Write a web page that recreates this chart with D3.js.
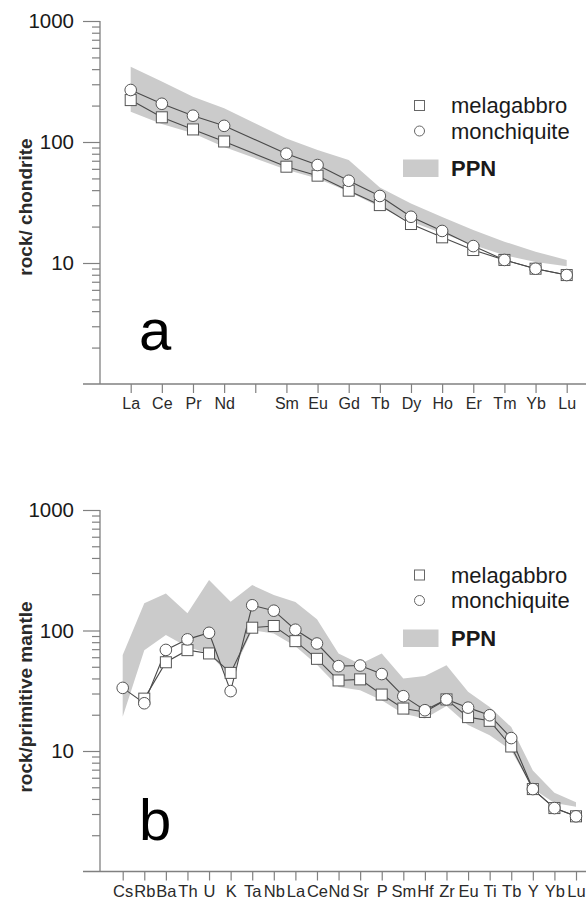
<!DOCTYPE html>
<html>
<head>
<meta charset="utf-8">
<script src="https://cdn.jsdelivr.net/npm/d3@7"></script>
<style>
  body { margin: 0; background: #fff; }
  svg { display: block; font-family: "Liberation Sans", Arial, sans-serif; }
</style>
</head>
<body>
<div id="chart-area"></div>
<script>
// ---- panel a : chondrite normalised REE ----
var reeElements = ["La","Ce","Pr","Nd","Pm","Sm","Eu","Gd","Tb","Dy","Ho","Er","Tm","Yb","Lu"];
var reeTickLabels = ["La","Ce","Pr","Nd","","Sm","Eu","Gd","Tb","Dy","Ho","Er","Tm","Yb","Lu"];
var reeMelagabbro = [222,160,127,101,null,62.5,52.7,39.6,30.1,21,16.3,12.8,10.6,8.97,7.95];
var reeMonchiquite = [269,207,165,136,null,80,64.5,47.8,35.8,24.1,18.4,13.8,10.6,8.97,7.95];
var reePpnUpper = [418,316,237,190,null,107,86,71,42,31,24,18.7,15,12.4,10.6];
var reePpnLower = [178,141,118,91,null,59,50,38.8,29,21.9,17.6,14.1,11.6,10.2,9.4];

// ---- panel b : primitive mantle normalised trace elements ----
var traceElements = ["Cs","Rb","Ba","Th","U","K","Ta","Nb","La","Ce","Nd","Sr","P","Sm","Hf","Zr","Eu","Ti","Tb","Y","Yb","Lu"];
var traceMelagabbro = [null,27.2,54.5,68.7,64.5,44.5,105.5,109,81.6,58.2,38.5,39.3,29.4,22.5,21.1,26.8,19.1,17.8,10.9,4.83,3.36,2.87];
var traceMonchiquite = [33.4,24.9,69,84.4,95.7,31.4,162,146,101.5,78,50.6,51.2,43.5,28.5,21.8,26.8,22.9,19.8,12.8,4.83,3.36,2.87];
var tracePpnUpper = [62.5,168,203,139,262,173,238,197,172,124,64.5,52.6,64.5,40,42,51.6,31,23.2,15.8,6.9,4.5,3.75];
var tracePpnLower = [19.2,68.7,91.6,73,64.5,41,100.7,94.6,74,52,34,32,26.4,20.4,18.6,23.6,16.4,13.5,10.1,4.87,3.7,3.45];

var yTickLabels = [10, 100, 1000];

var svg = d3.select("#chart-area")
    .append("svg")
    .attr("width", 586)
    .attr("height", 899);

function drawPanel(p) {
    var g = svg.append("g");

    var x = d3.scalePoint()
        .domain(p.elements)
        .range(p.xRange);

    var y = d3.scaleLog()
        .domain([1, 1000])
        .range(p.yRange);

    var rows = p.elements.map(function (el, i) {
        return { el: el, mel: p.mel[i], mon: p.mon[i], up: p.up[i], lo: p.lo[i] };
    });

    // PPN field
    var area = d3.area()
        .x(function (d) { return x(d.el); })
        .y0(function (d) { return y(d.lo); })
        .y1(function (d) { return y(d.up); });
    g.append("path")
        .datum(rows.filter(function (d) { return d.up != null; }))
        .attr("d", area)
        .attr("fill", "#cbcbcb");

    // y axis with minor ticks
    var yTicks = [];
    [1, 10, 100].forEach(function (dec) {
        for (var k = 1; k <= 10; k++) {
            if (dec * k > 1) yTicks.push(dec * k);
        }
    });
    yTicks = Array.from(new Set(yTicks));
    var yAxis = g.append("g")
        .attr("transform", "translate(100,0)")
        .call(d3.axisLeft(y).tickValues(yTicks).tickSize(8).tickFormat(""));
    yAxis.select(".domain").remove();
    yAxis.selectAll(".tick line")
        .attr("x2", function (d) { return yTickLabels.indexOf(d) >= 0 ? -17 : -8; })
        .attr("stroke", "#808080")
        .attr("stroke-width", 1.2);
    g.selectAll(".ylab")
        .data(yTickLabels)
        .enter()
        .append("text")
        .attr("x", 74)
        .attr("y", function (d) { return y(d); })
        .attr("dy", "0.36em")
        .attr("text-anchor", "end")
        .attr("font-size", 20.5)
        .attr("fill", "#1a1a1a")
        .text(function (d) { return d; });

    // axis lines
    g.append("line")
        .attr("x1", 100).attr("x2", 100)
        .attr("y1", y(1000)).attr("y2", y(1))
        .attr("stroke", "#808080").attr("stroke-width", 1.3);
    g.append("line")
        .attr("x1", 83).attr("x2", 586)
        .attr("y1", y(1)).attr("y2", y(1))
        .attr("stroke", "#808080").attr("stroke-width", 1.3);

    // x axis ticks and labels
    var xAxis = g.append("g")
        .attr("transform", "translate(0," + y(1) + ")")
        .call(d3.axisBottom(x).tickSize(9).tickSizeOuter(0)
            .tickFormat(function (d, i) { return p.tickLabels[i]; }));
    xAxis.select(".domain").remove();
    xAxis.selectAll(".tick line").attr("stroke", "#808080").attr("stroke-width", 1.2);
    xAxis.selectAll(".tick text")
        .attr("y", 14)
        .attr("font-size", p.xFont)
        .attr("font-family", "Liberation Sans, Arial, sans-serif")
        .attr("fill", "#2a2a2a");

    // axis title
    g.append("text")
        .attr("transform", "translate(" + p.titleX + "," + p.titleY + ") rotate(-90)")
        .attr("text-anchor", "middle")
        .attr("font-size", 19)
        .attr("font-weight", "bold")
        .attr("fill", "#2a2a2a")
        .text(p.title);

    // series lines
    var line = d3.line()
        .x(function (d) { return x(d.el); })
        .y(function (d) { return y(d.v); });
    ["mel", "mon"].forEach(function (key) {
        g.append("path")
            .datum(rows.filter(function (d) { return d[key] != null; })
                .map(function (d) { return { el: d.el, v: d[key] }; }))
            .attr("d", line)
            .attr("fill", "none")
            .attr("stroke", "#4a4a4a")
            .attr("stroke-width", 1.1);
    });

    // markers
    var s = 11;
    g.selectAll(".sq")
        .data(rows.filter(function (d) { return d.mel != null; }))
        .enter()
        .append("rect")
        .attr("x", function (d) { return x(d.el) - s / 2; })
        .attr("y", function (d) { return y(d.mel) - s / 2; })
        .attr("width", s)
        .attr("height", s)
        .attr("fill", "#fff")
        .attr("stroke", "#555")
        .attr("stroke-width", 1);
    g.selectAll(".ci")
        .data(rows.filter(function (d) { return d.mon != null; }))
        .enter()
        .append("circle")
        .attr("cx", function (d) { return x(d.el); })
        .attr("cy", function (d) { return y(d.mon); })
        .attr("r", 5.8)
        .attr("fill", "#fff")
        .attr("stroke", "#555")
        .attr("stroke-width", 1);

    // legend
    var L = p.legend;
    g.append("rect")
        .attr("x", 414.5).attr("y", L.y1 - 5)
        .attr("width", 10).attr("height", 10)
        .attr("fill", "#fff").attr("stroke", "#666").attr("stroke-width", 1);
    g.append("circle")
        .attr("cx", 419.5).attr("cy", L.y2)
        .attr("r", 5)
        .attr("fill", "#fff").attr("stroke", "#666").attr("stroke-width", 1);
    g.append("rect")
        .attr("x", 403).attr("y", L.y3 - 8.5)
        .attr("width", 35.5).attr("height", 17.5)
        .attr("fill", "#cbcbcb");
    g.append("text").attr("x", 451).attr("y", L.y1).attr("dy", "0.36em")
        .attr("font-size", 22).attr("fill", "#1a1a1a").text("melagabbro");
    g.append("text").attr("x", 451).attr("y", L.y2).attr("dy", "0.36em")
        .attr("font-size", 22).attr("fill", "#1a1a1a").text("monchiquite");
    g.append("text").attr("x", 451).attr("y", L.y3).attr("dy", "0.36em")
        .attr("font-size", 22).attr("font-weight", "bold").attr("fill", "#1a1a1a").text("PPN");

    // panel letter
    g.append("text")
        .attr("x", 139)
        .attr("y", p.letterY)
        .attr("font-size", 58)
        .attr("fill", "#000")
        .text(p.letter);
}

drawPanel({
    elements: reeElements,
    tickLabels: reeTickLabels,
    mel: reeMelagabbro,
    mon: reeMonchiquite,
    up: reePpnUpper,
    lo: reePpnLower,
    xRange: [130.7, 566.7],
    yRange: [384, 21],
    xFont: 16,
    title: "rock/ chondrite",
    titleX: 32,
    titleY: 207,
    legend: { y1: 105.5, y2: 131, y3: 168 },
    letter: "a",
    letterY: 350
});

drawPanel({
    elements: traceElements,
    tickLabels: traceElements,
    mel: traceMelagabbro,
    mon: traceMonchiquite,
    up: tracePpnUpper,
    lo: tracePpnLower,
    xRange: [122.7, 576],
    yRange: [871.5, 510],
    xFont: 16.5,
    title: "rock/primitive mantle",
    titleX: 32,
    titleY: 697,
    legend: { y1: 575, y2: 600.5, y3: 638 },
    letter: "b",
    letterY: 840
});
</script>
</body>
</html>
